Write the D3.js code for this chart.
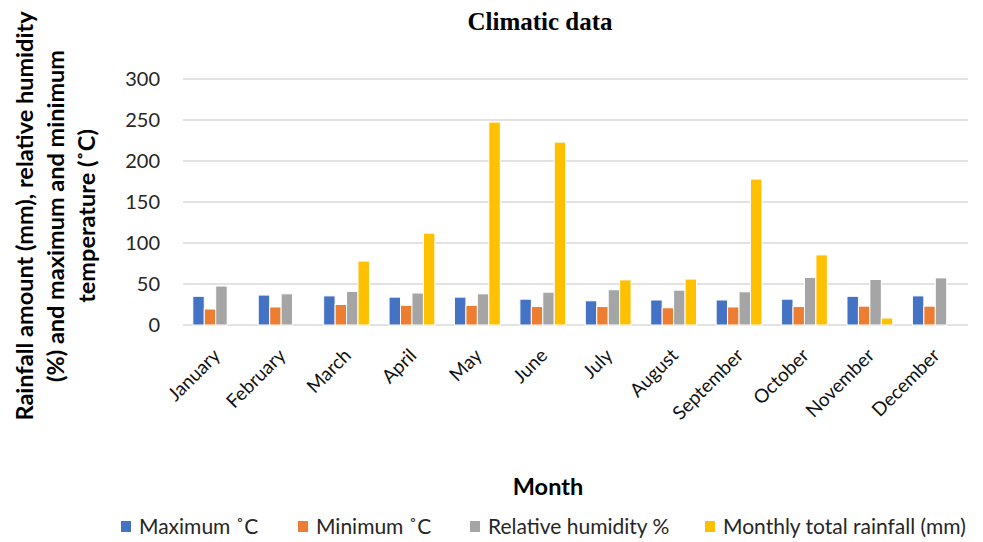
<!DOCTYPE html>
<html>
<head>
<meta charset="utf-8">
<script src="https://cdn.jsdelivr.net/npm/d3@7"></script>
<style>
  body { margin: 0; background: #fff; }
  svg { font-family: Lato, "Liberation Sans", sans-serif; }
</style>
</head>
<body>
<svg id="chart" width="983" height="542"></svg>
<script>
// data
const months = ["January", "February", "March", "April", "May", "June", "July",
  "August", "September", "October", "November", "December"];
const maxTemp = [35, 36.5, 35.5, 34, 34, 31.5, 29.5, 30.5, 30.5, 31.5, 35, 35.5];
const minTemp = [19.5, 22, 25, 24, 24, 22.5, 22.5, 21, 22, 22.5, 23, 23];
const humidity = [47.5, 38, 41, 39, 38, 40, 43, 42.5, 40.5, 58, 55.5, 57.5];
const rainfall = [0, 0, 78, 112, 247.5, 223, 55, 56, 178, 85.5, 8.5, 0];
const seriesNames = ["Maximum \u02daC", "Minimum \u02daC", "Relative humidity %", "Monthly total rainfall (mm)"];
const colors = ["#4472C4", "#ED7D31", "#A5A5A5", "#FFC000"];
const yTicks = [0, 50, 100, 150, 200, 250, 300];

const series = [maxTemp, minTemp, humidity, rainfall];

const svg = d3.select("#chart");
const plotL = 183, plotR = 968, plotT = 79, plotB = 325;

const x0 = d3.scaleBand().domain(months).range([plotL, plotR]).paddingInner(0.3).paddingOuter(0.15);
const x1 = d3.scaleBand().domain(d3.range(4)).range([0, x0.bandwidth()]);
const y = d3.scaleLinear().domain([0, 300]).range([plotB, plotT]);

// gridlines
svg.append("g")
  .selectAll("line")
  .data(yTicks)
  .join("line")
  .attr("x1", plotL).attr("x2", plotR)
  .attr("y1", d => y(d)).attr("y2", d => y(d))
  .attr("stroke", "#d9d9d9").attr("stroke-width", 1.3);

// y axis labels
svg.append("g")
  .selectAll("text")
  .data(yTicks)
  .join("text")
  .attr("x", 160).attr("y", d => y(d))
  .attr("dy", "0.35em")
  .attr("text-anchor", "end")
  .attr("font-size", 20)
  .attr("fill", "#262626")
  .text(d => d);

// bars
const groups = svg.append("g")
  .selectAll("g")
  .data(months)
  .join("g")
  .attr("transform", d => `translate(${x0(d)},0)`);

groups.selectAll("rect")
  .data((m, i) => series.map((s, k) => ({ k, v: s[i] })).filter(d => d.v > 0))
  .join("rect")
  .attr("x", d => x1(d.k))
  .attr("width", x1.bandwidth())
  .attr("y", d => y(d.v))
  .attr("height", d => y(0) - y(d.v))
  .attr("fill", d => colors[d.k])
  .attr("stroke", "#fff")
  .attr("stroke-width", 1);

// x labels, rotated
svg.append("g")
  .selectAll("text")
  .data(months)
  .join("text")
  .attr("transform", d => `translate(${x0(d) + x0.bandwidth() / 2 + 1},${plotB + 27}) rotate(-45)`)
  .attr("text-anchor", "end")
  .attr("dy", "0.35em")
  .attr("font-size", 19)
  .attr("fill", "#111")
  .text(d => d);

// title
svg.append("text")
  .attr("x", 540).attr("y", 30)
  .attr("text-anchor", "middle")
  .attr("font-family", "'Liberation Serif', 'Times New Roman', serif")
  .attr("font-weight", "bold")
  .attr("font-size", 25)
  .text("Climatic data");

// x axis title
svg.append("text")
  .attr("x", 548).attr("y", 495)
  .attr("text-anchor", "middle")
  .attr("font-weight", "bold")
  .attr("font-size", 23.5)
  .text("Month");

// y axis title
const yTitle = ["Rainfall amount (mm), relative humidity",
  "(%) and maximum and minimum", "temperature (\u02daC)"];
svg.append("text")
  .attr("transform", "translate(56,216) rotate(-90)")
  .attr("text-anchor", "middle")
  .attr("font-weight", "bold")
  .attr("font-size", 23.5)
  .selectAll("tspan")
  .data(yTitle)
  .join("tspan")
  .attr("x", 0)
  .attr("y", (d, i) => (i - 1) * 31 + 8)
  .text(d => d);

// legend
const legendX = [121, 298, 470, 705];
const legend = svg.append("g")
  .selectAll("g")
  .data(seriesNames)
  .join("g")
  .attr("transform", (d, i) => `translate(${legendX[i]},527)`);
legend.append("rect")
  .attr("x", 0).attr("y", -6).attr("width", 10).attr("height", 11)
  .attr("fill", (d, i) => colors[i]);
legend.append("text")
  .attr("x", 18).attr("dy", "0.35em")
  .attr("font-size", 21)
  .attr("fill", "#262626")
  .text(d => d);
</script>
</body>
</html>
